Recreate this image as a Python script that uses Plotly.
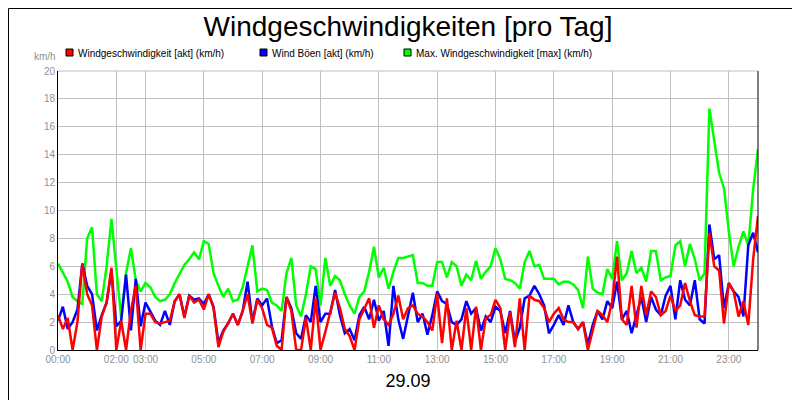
import plotly.graph_objects as go

# time in hours, 10-minute steps
hours = [i / 6 for i in range(145)]

max_wind = [6.2,5.6,4.9,3.8,3.5,3.3,8.0,8.8,4.0,3.5,6.0,9.4,6.0,2.3,5.5,7.3,5.0,4.2,4.8,4.5,3.8,3.5,3.6,4.0,
            4.8,5.5,6.1,6.5,7.0,6.5,7.8,7.6,5.5,4.6,3.8,4.4,3.5,3.6,4.5,6.0,7.5,4.2,4.4,4.3,3.4,3.2,2.8,5.5,6.6,3.2,
            2.4,4.0,6.0,5.8,3.2,6.6,4.6,5.3,5.0,4.0,3.2,2.6,3.8,4.2,5.6,7.4,5.2,5.9,4.4,5.6,6.6,6.6,6.7,6.8,4.8,
            4.8,4.6,4.6,6.3,6.3,5.2,6.3,6.0,4.6,5.4,5.0,6.4,5.1,5.6,6.0,7.3,6.5,5.1,5.0,4.8,4.4,6.3,7.1,6.0,
            6.1,5.1,5.1,5.1,4.7,4.9,4.9,4.7,4.3,3.0,6.7,4.4,4.1,4.0,5.8,5.1,7.8,5.0,5.5,7.1,5.5,5.9,4.9,7.1,7.1,5.0,
            5.2,5.3,7.5,7.8,6.0,7.6,6.5,5.0,5.5,17.3,15.0,12.7,11.6,8.5,6.0,7.4,8.5,7.5,11.5,14.4]

gusts = [2.1,3.1,1.5,2.0,2.9,6.2,4.6,4.0,1.4,2.5,3.4,5.7,1.7,2.1,5.4,1.4,5.1,1.7,3.4,2.8,2.1,1.8,2.8,1.8,
         3.5,4.0,2.4,3.9,3.6,3.7,3.3,4.0,3.1,0.5,1.4,1.9,2.6,1.8,2.8,4.9,2.0,3.7,3.2,3.7,1.7,0.5,0.7,3.8,3.0,1.2,
         0.8,2.5,2.0,4.6,2.0,2.6,2.6,4.3,2.5,1.2,1.5,0.7,2.5,3.1,2.2,3.6,2.1,2.8,0.3,4.6,2.2,0.8,2.4,4.1,2.0,
         2.6,1.1,2.5,4.2,3.5,3.3,2.0,1.8,2.2,3.5,2.6,3.0,1.4,2.4,2.0,3.1,2.8,1.2,2.8,0.6,1.6,3.7,3.9,4.6,
         4.0,3.2,1.2,1.8,2.5,1.8,3.2,2.0,1.5,2.0,0.4,1.8,2.8,2.2,3.5,3.0,4.9,2.2,2.8,1.2,2.5,3.8,2.0,3.8,2.9,2.5,
         3.9,4.6,2.2,5.0,3.6,3.2,5.0,2.2,1.9,9.0,6.5,6.8,3.0,4.8,4.2,3.8,2.4,7.5,8.4,7.0]

wind = [2.5,1.5,2.3,0.0,2.0,6.2,4.0,3.2,0.0,2.4,3.4,5.9,0.0,2.1,0.0,2.8,4.6,0.0,2.6,2.6,2.0,1.9,2.0,2.1,
        3.5,4.0,2.3,3.9,3.4,3.6,2.9,4.0,3.0,0.2,1.3,1.9,2.6,1.8,2.8,4.0,1.9,3.6,3.0,1.8,1.6,0.3,0.0,3.8,2.8,0.0,
        0.0,2.3,0.0,3.7,0.0,1.3,2.6,4.1,3.0,1.5,1.0,0.0,2.2,3.0,3.7,1.6,3.2,2.2,1.8,2.6,3.9,2.2,3.0,3.2,2.6,
        2.4,2.0,1.4,4.0,0.5,3.7,0.0,2.1,0.0,3.0,0.0,3.1,0.0,2.3,2.5,3.6,3.0,0.0,2.7,0.2,3.7,0.0,3.9,3.6,
        3.5,3.0,2.0,2.6,3.0,2.2,2.0,2.0,1.5,2.0,0.0,1.5,2.8,2.5,2.0,3.5,6.7,2.2,1.8,4.6,1.6,4.6,2.5,4.2,3.8,2.5,
        2.8,3.9,2.8,3.2,4.8,3.5,2.5,2.4,2.4,8.4,6.0,5.7,1.9,4.8,4.2,2.4,3.5,1.8,6.5,9.6]

tick_vals = [0, 2, 3, 5, 7, 9, 11, 13, 15, 17, 19, 21, 23]
tick_text = ["00:00", "02:00", "03:00", "05:00", "07:00", "09:00", "11:00",
             "13:00", "15:00", "17:00", "19:00", "21:00", "23:00"]
y_ticks = list(range(0, 21, 2))

names = ["Windgeschwindigkeit [akt] (km/h)", "Wind Böen [akt] (km/h)", "Max. Windgeschwindigkeit [max] (km/h)"]
colors = ["#ff0000", "#0000ff", "#00ff00"]
legend_px = [58, 252, 396]  # left pixel of each legend square

def px(xp):
    return (xp - 50) / 700

def py(yp):
    return (342 - yp) / 279

fig = go.Figure()
for y, c in [(max_wind, colors[2]), (gusts, colors[1]), (wind, colors[0])]:
    fig.add_trace(go.Scatter(x=hours, y=y, mode="lines", line=dict(color=c, width=2.5),
                             showlegend=False, hoverinfo="skip"))

shapes = [
    dict(type="line", xref="paper", yref="paper", x0=0, x1=1, y0=1, y1=1, line=dict(color="#c0c0c0", width=1)),
    dict(type="line", xref="paper", yref="paper", x0=1, x1=1, y0=0, y1=1, line=dict(color="black", width=1)),
    dict(type="rect", xref="paper", yref="paper", x0=px(0.5), x1=px(799.5),
         y0=py(399.5), y1=py(0.5), line=dict(color="black", width=1)),
]
annotations = [dict(text="km/h", xref="paper", yref="paper", x=px(37), y=py(48),
                    xanchor="center", yanchor="middle", showarrow=False,
                    font=dict(size=10, color="#909090"))]
for n, c, lx in zip(names, colors, legend_px):
    shapes.append(dict(type="rect", xref="paper", yref="paper", x0=px(lx), x1=px(lx + 7),
                       y0=py(48), y1=py(41), fillcolor=c, line=dict(color="black", width=1)))
    annotations.append(dict(text=n, xref="paper", yref="paper", x=px(lx + 10), y=py(45),
                            xanchor="left", yanchor="middle", showarrow=False,
                            font=dict(size=10, color="black")))

fig.update_layout(
    width=800, height=400, paper_bgcolor="white", plot_bgcolor="white",
    margin=dict(l=50, r=50, t=63, b=58, autoexpand=False), showlegend=False,
    title=dict(text="Windgeschwindigkeiten [pro Tag]", x=0.5, xanchor="center", y=1 - 18 / 400,
               yanchor="middle", font=dict(family="Liberation Sans, Arial", size=28, color="black")),
    font=dict(family="Liberation Sans, Arial", size=11, color="black"),
    xaxis=dict(range=[0, 24], tickvals=tick_vals, ticktext=tick_text, showgrid=True, automargin=False,
               gridcolor="#c0c0c0", gridwidth=1, showline=True, linecolor="black", linewidth=1,
               ticks="", tickfont=dict(size=10, color="#909090"), zeroline=False,
               title=dict(text="29.09", font=dict(size=18, color="black"), standoff=10)),
    yaxis=dict(range=[0, 20], tickvals=y_ticks, showgrid=True, gridcolor="#c0c0c0", gridwidth=1,
               showline=True, linecolor="black", linewidth=1, ticks="", automargin=False,
               tickfont=dict(size=10, color="#909090"), zeroline=False),
    shapes=shapes, annotations=annotations,
)
fig.write_html("out.html")
